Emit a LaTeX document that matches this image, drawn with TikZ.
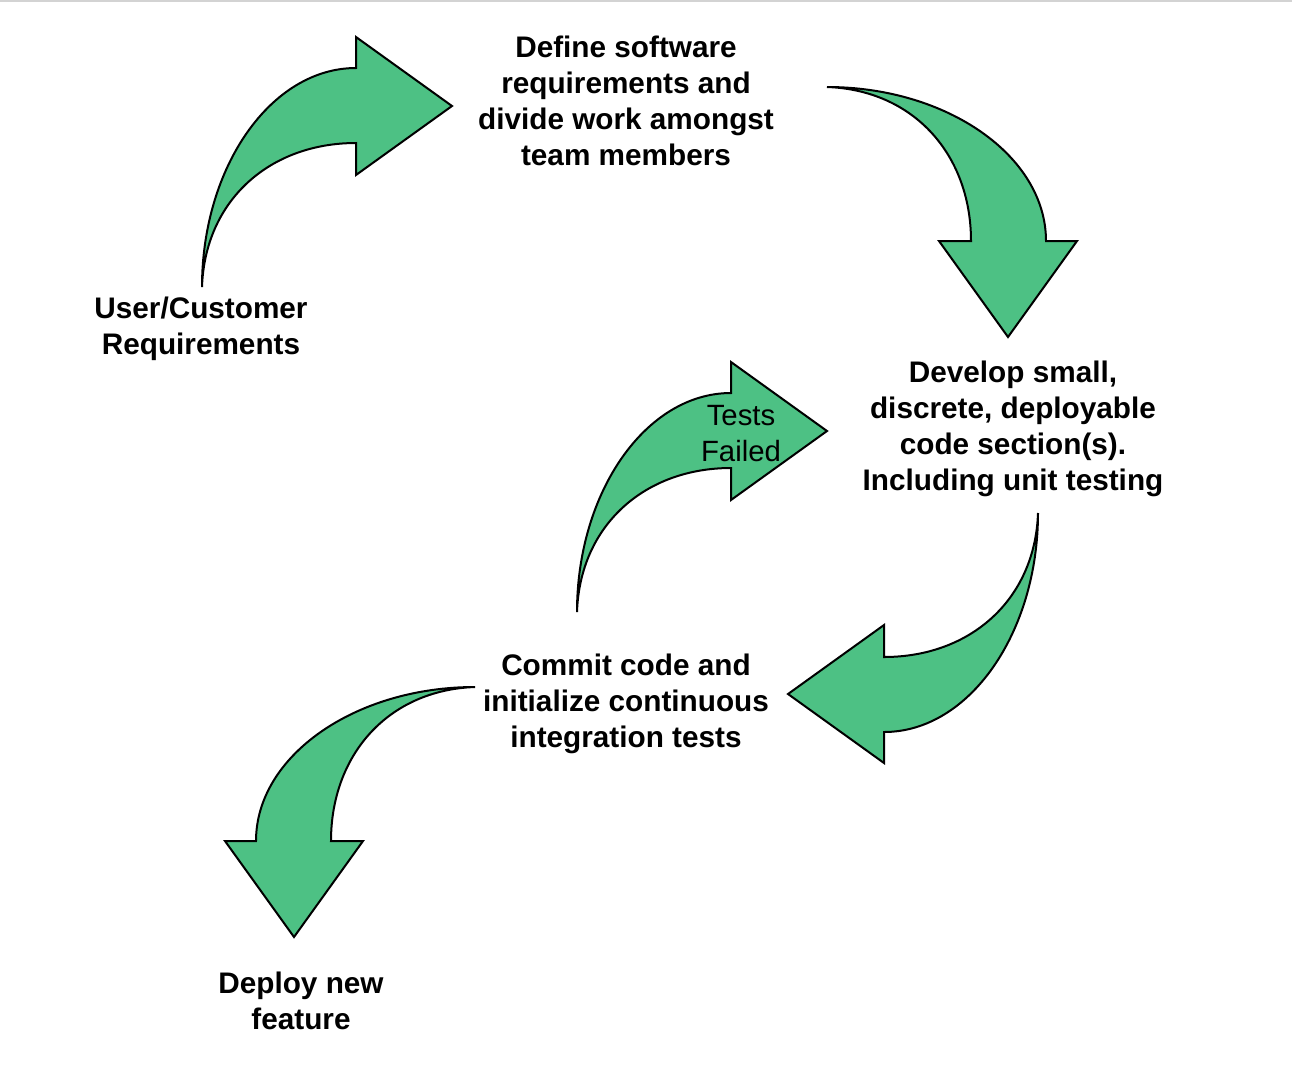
\documentclass[tikz,border=0pt]{standalone}
\usepackage{fontspec}
\setmainfont{Liberation Sans}

\definecolor{arrowgreen}{RGB}{77,193,132}
\definecolor{edgegrey}{RGB}{211,211,211}

\tikzset{every picture/.style={line width=0.75pt}}
\tikzset{
  blockarrow/.style={draw=black, fill=arrowgreen, line width=1.5pt, line join=miter},
  steptext/.style={align=center, inner sep=0pt, font=\fontsize{22.3}{27}\selectfont\bfseries},
  notetext/.style={align=center, inner sep=0pt, font=\fontsize{22}{27.5}\selectfont}
}

\begin{document}
\begin{tikzpicture}[x=0.75pt,y=0.75pt,yscale=-1,xscale=1]
	\useasboundingbox (0,0) rectangle (1292,1076);
	% top edge
	\fill [edgegrey] (0,0) rectangle (1292,1.5);

	%Shape: Curved Right Arrow [id:requirements]
	\draw [blockarrow] (202,287) .. controls (202,167) and (271,68) .. (356,68) -- (356,37) -- (452,106) -- (356,175) -- (356,143) .. controls (270,143) and (205,200) .. (202,287) -- cycle ;
	%Shape: Curved Down Arrow [id:develop]
	\draw [blockarrow] (827,87) .. controls (947,87) and (1046,156) .. (1046,241) -- (1077,241) -- (1008,337) -- (939,241) -- (971,241) .. controls (971,155) and (914,90) .. (827,87) -- cycle ;
	%Shape: Curved Right Arrow [id:retry]
	\draw [blockarrow] (577,612) .. controls (577,492) and (646,393) .. (731,393) -- (731,362) -- (827,431) -- (731,500) -- (731,468) .. controls (645,468) and (580,525) .. (577,612) -- cycle ;
	%Shape: Curved Left Arrow [id:commit]
	\draw [blockarrow] (1038,513) .. controls (1038,633) and (969,732) .. (884,732) -- (884,763) -- (788,694) -- (884,625) -- (884,657) .. controls (970,657) and (1035,600) .. (1038,513) -- cycle ;
	%Shape: Curved Down Arrow [id:deploy]
	\draw [blockarrow] (475,687) .. controls (355,687) and (256,756) .. (256,841) -- (225,841) -- (294,937) -- (363,841) -- (331,841) .. controls (331,755) and (388,690) .. (475,687) -- cycle ;

	% Text Node
	\node [steptext] (define) at (626,101) {Define software\\requirements and\\divide work amongst\\team members};
	% Text Node
	\node [steptext] (user) at (201,328.5) {User/Customer\\Requirements};
	% Text Node
	\node [steptext] (develop) at (1013,428.5) {Develop small,\\discrete, deployable\\code section(s).\\Including unit testing};
	% Text Node
	\node [steptext] (commit) at (626,703.5) {Commit code and\\initialize continuous\\integration tests};
	% Text Node
	\node [steptext] (feature) at (301,1001) {Deploy new\\feature};
	% Text Node
	\node [notetext] (failed) at (741,433.5) {Tests\\Failed};

\end{tikzpicture}
\end{document}
